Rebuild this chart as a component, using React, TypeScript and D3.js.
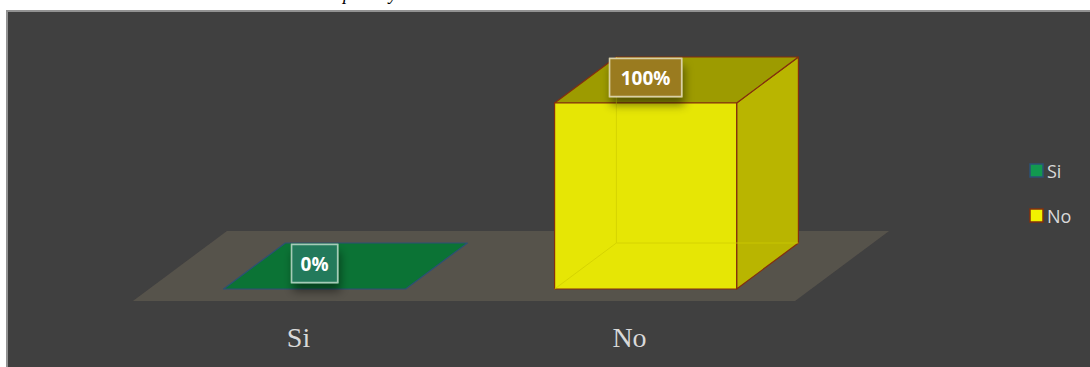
import React from "react";
import * as d3 from "d3";

const categories = ["Si", "No"];
const values = [0, 1];
const valueLabels = ["0%", "100%"];
const legendItems = ["Si", "No"];
const valueDomain = [0, 1];

const W = 1090;
const H = 367;

// 3D oblique layout
const floorFrontY = 301;
const floorDepth = 70;
const kx = 94 / 70;
const barFrontD = 12;
const barBackD = 58;

const xBand = d3.scaleBand<string>().domain(categories).range([133, 795]).paddingInner(0.45).paddingOuter(0.225);
const hScale = d3.scaleLinear().domain(valueDomain).range([0, 186]);

const proj = (x: number, d: number, h: number): [number, number] => [x + d * kx, floorFrontY - d - h];
const poly = (pts: [number, number][]) => pts.map((p) => p.join(",")).join(" ");

const colors = {
  Si: { base: "#12994f", top: "#0b7335", front: "#0f8a45", side: "#0a6a31", edge: "#2c5075", box: "#237a5b", boxEdge: "#a6cbb7" },
  No: { base: "#f2f200", top: "#9d9b00", front: "#e6e605", side: "#b9b500", edge: "#842f0e", box: "#9a7b1f", boxEdge: "#d9cfa6" },
} as Record<string, any>;

export default function App() {
  const floorPts = poly([
    proj(133, 0, 0),
    proj(795, 0, 0),
    proj(795, floorDepth, 0),
    proj(133, floorDepth, 0),
  ]);
  return (
    <div style={{ position: "absolute", left: 0, top: 0, width: W, height: H, background: "#fff" }}>
      <svg width={W} height={H} style={{ display: "block" }}>
        <defs>
          <filter id="lblShadow" x="-50%" y="-50%" width="200%" height="250%">
            <feDropShadow dx="2" dy="8" stdDeviation="5" floodColor="#000" floodOpacity="0.45" />
          </filter>
          <filter id="soft" x="-5%" y="-5%" width="110%" height="110%">
            <feGaussianBlur stdDeviation="0.6" />
          </filter>
        </defs>
        <rect x={0} y={0} width={W} height={H} fill="#ffffff" />
        <text x={343} y={0} fontFamily="Liberation Serif, Times New Roman, serif" fontStyle="italic" fontSize={18} fill="#000" textLength={54} lengthAdjust="spacing">pasado y</text>
        <rect x={6} y={10} width={W - 6} height={H - 10} fill="#929292" />
        <rect x={8} y={12} width={W - 8} height={H - 12} fill="#404040" />
        <polygon points={floorPts} fill="#57534b" filter="url(#soft)" />
        {categories.map((c, i) => {
          const x0 = xBand(c)!;
          const x1 = x0 + xBand.bandwidth();
          const h = hScale(values[i]);
          const col = colors[c];
          const top = poly([proj(x0, barFrontD, h), proj(x1, barFrontD, h), proj(x1, barBackD, h), proj(x0, barBackD, h)]);
          if (h <= 0.5) {
            return (
              <g key={c}>
                <polygon points={top} fill={col.top} stroke={col.edge} strokeWidth={1.2} strokeLinejoin="round" />
              </g>
            );
          }
          const front = poly([proj(x0, barFrontD, 0), proj(x1, barFrontD, 0), proj(x1, barFrontD, h), proj(x0, barFrontD, h)]);
          const side = poly([proj(x1, barFrontD, 0), proj(x1, barBackD, 0), proj(x1, barBackD, h), proj(x1, barFrontD, h)]);
          const hb0 = proj(x0, barBackD, 0);
          const hb1 = proj(x1, barBackD, 0);
          const hbt = proj(x0, barBackD, h);
          const hf0 = proj(x0, barFrontD, 0);
          return (
            <g key={c}>
              <polygon points={side} fill={col.side} stroke={col.edge} strokeWidth={1.2} strokeLinejoin="round" />
              <polygon points={top} fill={col.top} stroke={col.edge} strokeWidth={1.2} strokeLinejoin="round" />
              <polygon points={front} fill={col.front} stroke={col.edge} strokeWidth={1.2} strokeLinejoin="round" />
              <g stroke="#cfcc00" strokeWidth={1} opacity={0.7} fill="none">
                <line x1={hb0[0]} y1={hb0[1]} x2={hbt[0]} y2={hbt[1]} />
                <line x1={hb0[0]} y1={hb0[1]} x2={hb1[0]} y2={hb1[1]} />
                <line x1={hb0[0]} y1={hb0[1]} x2={hf0[0]} y2={hf0[1]} />
              </g>
            </g>
          );
        })}
        {categories.map((c, i) => {
          const x0 = xBand(c)!;
          const h = hScale(values[i]);
          const cx = proj(x0 + xBand.bandwidth() / 2, barFrontD, h)[0];
          const cy = proj(x0, barFrontD, h)[1] - 25.5;
          const label = valueLabels[i];
          const bw = label.length > 2 ? 72 : 46;
          const col = colors[c];
          return (
            <g key={"lbl" + c}>
              <rect x={cx - bw / 2} y={cy - 19} width={bw} height={38} fill={col.box} stroke={col.boxEdge} strokeWidth={1.5} filter="url(#lblShadow)" />
              <rect x={cx - bw / 2} y={cy - 19} width={bw} height={38} fill={col.box} stroke={col.boxEdge} strokeWidth={1.5} />
              <text x={cx} y={cy + 7} textAnchor="middle" fontFamily="Open Sans, Noto Sans, sans-serif" fontWeight={700} fontSize={19} fill="#ffffff">{label}</text>
            </g>
          );
        })}
        {categories.map((c) => {
          const cx = xBand(c)! + xBand.bandwidth() / 2;
          return (
            <text key={"ax" + c} x={cx} y={347} textAnchor="middle" fontFamily="Liberation Serif, Times New Roman, serif" fontSize={28} fill="#d9d9d9">{c}</text>
          );
        })}
        {legendItems.map((c, i) => {
          const y = 164 + i * 45;
          return (
            <g key={"lg" + c}>
              <rect x={1030} y={y} width={13} height={13} fill={colors[c].base} stroke={colors[c].edge} strokeWidth={1.5} />
              <text x={1047} y={y + 13.5} fontFamily="Open Sans, Noto Sans, sans-serif" fontSize={18} fill="#d9d9d9">{c}</text>
            </g>
          );
        })}
      </svg>
    </div>
  );
}
